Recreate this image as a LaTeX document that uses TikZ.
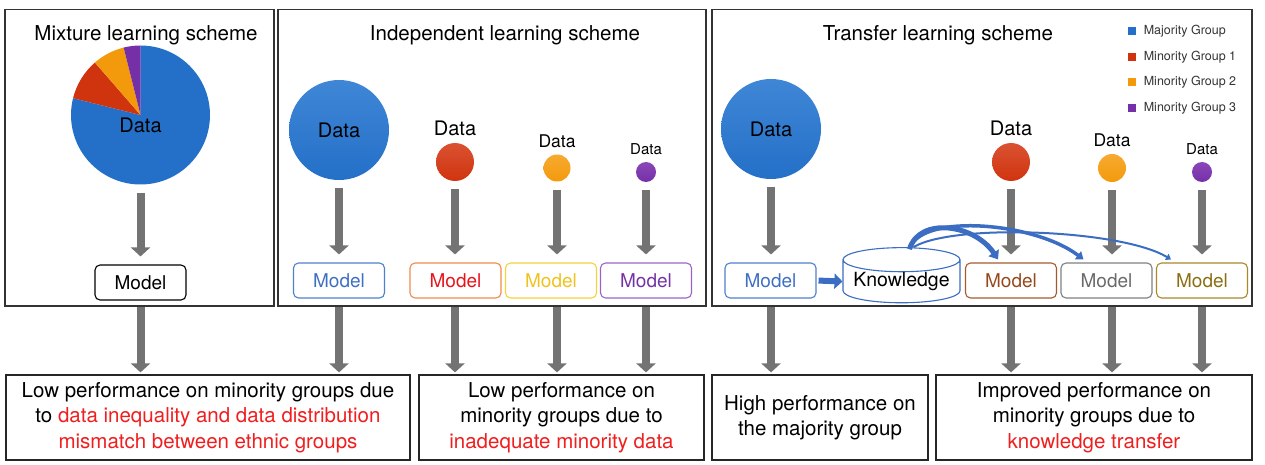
\documentclass[tikz,border=0pt]{standalone}
\usepackage{fontspec}
\setmainfont{TeX Gyre Heros}
\usetikzlibrary{shapes, arrows.meta, positioning, fit, calc}

\definecolor{majblue}{HTML}{2470C8}
\definecolor{majbluetop}{HTML}{3F86D6}
\definecolor{minred}{HTML}{D0340E}
\definecolor{minredtop}{HTML}{DA5232}
\definecolor{minorange}{HTML}{F39A0C}
\definecolor{minorangetop}{HTML}{F7AA30}
\definecolor{minpurple}{HTML}{7530A8}
\definecolor{minpurpletop}{HTML}{8A46B8}
\definecolor{boxblue}{HTML}{4F80CC}
\definecolor{boxorange}{HTML}{EE8A4C}
\definecolor{boxyellow}{HTML}{F5D23A}
\definecolor{boxpurple}{HTML}{9A64C6}
\definecolor{txtblue}{HTML}{3E6FC4}
\definecolor{txtred}{HTML}{E8141A}
\definecolor{txtyellow}{HTML}{EFC21E}
\definecolor{txtpurple}{HTML}{7432A6}
\definecolor{boxbrown}{HTML}{A65A2C}
\definecolor{txtbrown}{HTML}{97481C}
\definecolor{boxgray}{HTML}{7F7F7F}
\definecolor{txtgray}{HTML}{6A6A6A}
\definecolor{boxgold}{HTML}{A8892A}
\definecolor{txtgold}{HTML}{8A6E12}
\definecolor{knowblue}{HTML}{3B6DC2}
\definecolor{hired}{HTML}{F01E1E}

\begin{document}
\begin{tikzpicture}[x=1pt, y=1pt, thick,
    panel/.style={draw=black!80, line width=1.2pt, inner sep=0pt},
    title/.style={anchor=base, font=\fontsize{20.5}{24}\selectfont},
    blob/.style={circle, inner sep=0pt, font=\fontsize{20}{24}\selectfont},
    datalbl/.style={inner sep=1pt},
    model/.style={draw, rounded corners=5pt, line width=1.1pt, minimum width=91pt,
      minimum height=35pt, inner sep=0pt, font=\fontsize{19}{22}\selectfont},
    result/.style={draw=black!85, line width=1.2pt, minimum height=85pt, inner sep=0pt,
      align=center, font=\fontsize{20.5}{25.5}\selectfont},
    legsq/.style={minimum size=8pt, inner sep=0pt},
    legtxt/.style={inner sep=0pt, text=black!80, font=\fontsize{12.5}{15}\selectfont},
    grayarrow/.style={draw=black!55, line width=8pt, -{Triangle[width=19pt, length=9pt]}},
    transfer/.style={draw=knowblue}
  ]
  \useasboundingbox (0,0) rectangle (1265,-465);

  % panels
  \node[panel, fit={(5,-9.5) (274,-306)}] (p1) {};
  \node[panel, fit={(278,-9.5) (706,-306)}] (p2) {};
  \node[panel, fit={(712,-9.5) (1252,-306)}] (p3) {};
  \node[title] (t1) at (146,-41) {Mixture learning scheme};
  \node[title] (t2) at (505,-40.5) {Independent learning scheme};
  \node[title] (t3) at (938,-41) {Transfer learning scheme};

  % legend
  \node[legsq, fill=majblue] (lq1) at (1132,-31) {};
  \node[legsq, fill=minred] (lq2) at (1132,-57) {};
  \node[legsq, fill=minorange] (lq3) at (1132,-82) {};
  \node[legsq, fill=minpurple] (lq4) at (1132,-108) {};
  \node[legtxt, right=7pt of lq1] (lt1) {Majority Group};
  \node[legtxt, right=7pt of lq2] (lt2) {Minority Group 1};
  \node[legtxt, right=7pt of lq3] (lt3) {Minority Group 2};
  \node[legtxt, right=7pt of lq4] (lt4) {Minority Group 3};

  % mixture: pie chart
  \node[circle, minimum size=139pt, inner sep=0pt] (pie) at (140.5,-115) {};
  \fill[majblue] (pie.center) -- ++(90:69.5pt) arc[start angle=90, end angle=-194, radius=69.5pt] -- cycle;
  \fill[minred] (pie.center) -- ++(166:69.5pt) arc[start angle=166, end angle=131, radius=69.5pt] -- cycle;
  \fill[minorange] (pie.center) -- ++(131:69.5pt) arc[start angle=131, end angle=104, radius=69.5pt] -- cycle;
  \fill[minpurple] (pie.center) -- ++(104:69.5pt) arc[start angle=104, end angle=90, radius=69.5pt] -- cycle;
  \node[font=\fontsize{20}{24}\selectfont] (piel) at (140.5,-125) {Data};
  \node[model] (m1) at (140.5,-282.5) {Model};

  % independent
  \node[blob, minimum size=100pt, top color=majbluetop, bottom color=majblue] (d2) at (339,-130) {Data};
  \node[blob, minimum size=38pt, top color=minredtop, bottom color=minred] (d3) at (455,-162) {};
  \node[blob, minimum size=27pt, top color=minorangetop, bottom color=minorange] (d4) at (557,-168) {};
  \node[blob, minimum size=20pt, top color=minpurpletop, bottom color=minpurple] (d5) at (646,-172) {};
  \node[datalbl, above=5pt of d3, font=\fontsize{20}{24}\selectfont] (l3) {Data};
  \node[datalbl, above=5pt of d4, font=\fontsize{17.5}{21}\selectfont] (l4) {Data};
  \node[datalbl, above=5pt of d5, font=\fontsize{15}{18}\selectfont] (l5) {Data};
  \node[model, draw=boxblue, text=txtblue] (m2) at (339,-280.5) {Model};
  \node[model, draw=boxorange, text=txtred] (m3) at (455.5,-280.5) {Model};
  \node[model, draw=boxyellow, text=txtyellow] (m4) at (551,-280.5) {Model};
  \node[model, draw=boxpurple, text=txtpurple] (m5) at (646,-280.5) {Model};

  % transfer
  \node[blob, minimum size=100pt, top color=majbluetop, bottom color=majblue] (d6) at (771,-129) {Data};
  \node[blob, minimum size=38pt, top color=minredtop, bottom color=minred] (d7) at (1011,-162) {};
  \node[blob, minimum size=28pt, top color=minorangetop, bottom color=minorange] (d8) at (1112,-168) {};
  \node[blob, minimum size=20pt, top color=minpurpletop, bottom color=minpurple] (d9) at (1202,-172) {};
  \node[datalbl, above=5pt of d7, font=\fontsize{20}{24}\selectfont] (l7) {Data};
  \node[datalbl, above=5pt of d8, font=\fontsize{17.5}{21}\selectfont] (l8) {Data};
  \node[datalbl, above=5pt of d9, font=\fontsize{15}{18}\selectfont] (l9) {Data};
  \node[model, draw=boxblue, text=txtblue] (m6) at (770.5,-280.5) {Model};
  \node[cylinder, shape border rotate=90, aspect=0.25, draw=knowblue, line width=1.1pt,
    minimum width=117pt, minimum height=48pt, inner sep=0pt,
    font=\fontsize{19.5}{22}\selectfont] (kn) at (901.5,-281.5) {Knowledge};
  \node[model, draw=boxbrown, text=txtbrown] (m7) at (1011,-280.5) {Model};
  \node[model, draw=boxgray, text=txtgray] (m8) at (1106.5,-280.5) {Model};
  \node[model, draw=boxgold, text=txtgold] (m9) at (1202,-280.5) {Model};

  % results
  \node[result, minimum width=404pt] (r1) at (208,-417.5) {Low performance on minority groups due\\
    to \textcolor{hired}{data inequality and data distribution}\\
    \textcolor{hired}{mismatch between ethnic groups}};
  \node[result, minimum width=285pt] (r2) at (561.5,-417.5) {Low performance on\\
    minority groups due to\\ \textcolor{hired}{inadequate minority data}};
  \node[result, minimum width=216pt] (r3) at (820,-417.5) {High performance on\\ the majority group};
  \node[result, minimum width=316pt] (r4) at (1094,-417.5) {Improved performance on\\
    minority groups due to\\ \textcolor{hired}{knowledge transfer}};

  % data -> model
  \draw[grayarrow, shorten <=8pt, shorten >=8pt] (pie.south) -- (pie.south |- m1.north);
  \draw[grayarrow, shorten <=8pt, shorten >=8pt] (d2.south) -- (d2.south |- m2.north);
  \draw[grayarrow, shorten <=8pt, shorten >=8pt] (d3.south) -- (d3.south |- m3.north);
  \draw[grayarrow, shorten <=8pt, shorten >=8pt] (d4.south) -- (d4.south |- m4.north);
  \draw[grayarrow, shorten <=8pt, shorten >=8pt] (d5.south) -- (d5.south |- m5.north);
  \draw[grayarrow, shorten <=8pt, shorten >=8pt] (d6.south) -- (d6.south |- m6.north);
  \draw[grayarrow, shorten <=8pt, shorten >=8pt] (d7.south) -- (d7.south |- m7.north);
  \draw[grayarrow, shorten <=8pt, shorten >=8pt] (d8.south) -- (d8.south |- m8.north);
  \draw[grayarrow, shorten <=8pt, shorten >=8pt] (d9.south) -- (d9.south |- m9.north);

  % model -> knowledge -> models
  \draw[transfer, line width=6pt, -{Triangle[width=15pt, length=8pt]}, shorten <=2pt] (m6.east) -- (kn.west);
  \draw[transfer, line width=5pt, -{Triangle[width=12pt, length=8pt]}]
    ([xshift=8pt, yshift=-2pt]kn.north) .. controls +(10,33) and +(-23,35) .. ([xshift=-13pt, yshift=3pt]m7.north);
  \draw[transfer, line width=3.5pt, -{Triangle[width=10pt, length=7pt]}]
    ([xshift=8pt, yshift=-2pt]kn.north) .. controls +(10,36) and +(-50,38) .. ([xshift=-23pt, yshift=3pt]m8.north);
  \draw[transfer, line width=2pt, -{Triangle[width=7pt, length=5pt]}]
    ([xshift=12pt]kn.north) .. controls +(40,24) and +(-50,30) .. ([xshift=-31pt, yshift=3pt]m9.north);

  % panels -> results
  \draw[grayarrow, shorten >=2pt] (pie |- p1.south) -- (pie |- r1.north);
  \draw[grayarrow, shorten >=2pt] (d2 |- p2.south) -- (d2 |- r1.north);
  \draw[grayarrow, shorten >=2pt] (d3 |- p2.south) -- (d3 |- r2.north);
  \draw[grayarrow, shorten >=2pt] (d4 |- p2.south) -- (d4 |- r2.north);
  \draw[grayarrow, shorten >=2pt] (d5 |- p2.south) -- (d5 |- r2.north);
  \draw[grayarrow, shorten >=2pt] (d6 |- p3.south) -- (d6 |- r3.north);
  \draw[grayarrow, shorten >=2pt] (d7 |- p3.south) -- (d7 |- r4.north);
  \draw[grayarrow, shorten >=2pt] (d8 |- p3.south) -- (d8 |- r4.north);
  \draw[grayarrow, shorten >=2pt] (d9 |- p3.south) -- (d9 |- r4.north);
\end{tikzpicture}
\end{document}
